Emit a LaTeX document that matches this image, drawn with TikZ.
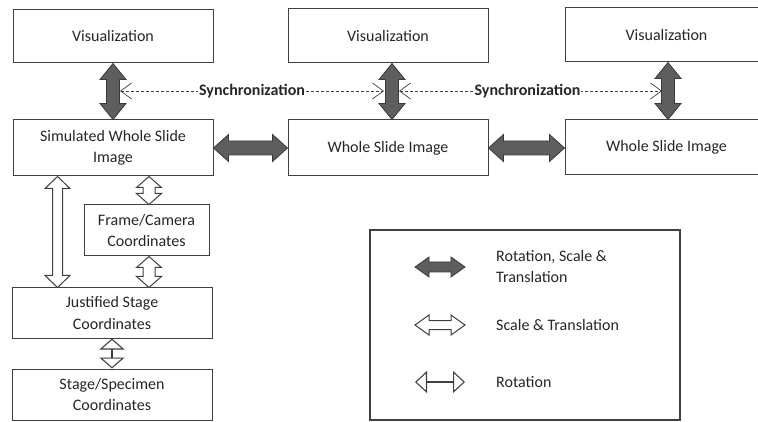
\documentclass[tikz,border=0pt]{standalone}
\usepackage{fontspec}
\setmainfont{Carlito}
\usetikzlibrary{calc,arrows.meta}

\definecolor{ink}{HTML}{262626}
\definecolor{frame}{HTML}{404040}
\definecolor{heavyfill}{HTML}{5E5E5E}
\definecolor{heavyline}{HTML}{3A3A3A}

% Block double arrow, vertical: #1 style, #2 upper end, #3 lower end,
% #4 shaft half-width, #5 head half-width, #6 head length (all in pt)
\newcommand\vdouble[6]{%
  \path[#1] let \p1=(#2), \p2=(#3) in
    (\x1,\y1) -- (\x1+#5pt,\y1-#6pt) -- (\x1+#4pt,\y1-#6pt)
    -- (\x1+#4pt,\y2+#6pt) -- (\x1+#5pt,\y2+#6pt) -- (\x1,\y2)
    -- (\x1-#5pt,\y2+#6pt) -- (\x1-#4pt,\y2+#6pt)
    -- (\x1-#4pt,\y1-#6pt) -- (\x1-#5pt,\y1-#6pt) -- cycle;}
% Block double arrow, horizontal: #2 left end, #3 right end
\newcommand\hdouble[6]{%
  \path[#1] let \p1=(#2), \p2=(#3) in
    (\x1,\y1) -- (\x1+#6pt,\y1+#5pt) -- (\x1+#6pt,\y1+#4pt)
    -- (\x2-#6pt,\y1+#4pt) -- (\x2-#6pt,\y1+#5pt) -- (\x2,\y1)
    -- (\x2-#6pt,\y1-#5pt) -- (\x2-#6pt,\y1-#4pt)
    -- (\x1+#6pt,\y1-#4pt) -- (\x1+#6pt,\y1-#5pt) -- cycle;}

\begin{document}
\begin{tikzpicture}[x=1pt,y=-1pt,
  font=\fontsize{16}{21.5}\selectfont, text=ink,
  box/.style={draw=frame, line width=1pt, fill=white, align=center,
    inner sep=0pt, minimum width=#1},
  box/.default=200pt,
  heavy/.style={fill=heavyfill, draw=heavyline, line width=0.8pt, line join=miter},
  hollow/.style={fill=white, draw=frame, line width=1pt, line join=miter},
  turn/.style={draw=frame, line width=1.1pt,
    {Triangle[open, length=11pt, width=25pt]}-{Triangle[open, length=11pt, width=25pt]}},
  turnsmall/.style={draw=frame, line width=1.1pt,
    {Triangle[open, length=12pt, width=22pt]}-{Triangle[open, length=12pt, width=22pt]}},
  sync/.style={draw=black!75, line width=0.7pt, dash pattern=on 3pt off 2pt,
    {Straight Barb[length=11pt, width=16pt]}-{Straight Barb[length=11pt, width=16pt]}},
  synclabel/.style={fill=white, inner sep=1pt, font=\fontsize{16}{19}\selectfont\bfseries}]

\useasboundingbox (0,0) rectangle (758,422);
\clip (0,0) rectangle (758,422);

% top row
\node[box, minimum height=53pt] (v1) at (113,36.5) {Visualization};
\node[box, minimum height=54pt] (v2) at (388,36) {Visualization};
\node[box=203pt, minimum height=54pt] (v3) at (666.5,35) {Visualization};

% whole slide images
\node[box, minimum height=56pt] (sw) at (113,148) {Simulated Whole Slide\\Image};
\node[box, minimum height=56pt] (w2) at (388,148) {Whole Slide Image};
\node[box=203pt, minimum height=55pt] (w3) at (666.5,147.5) {Whole Slide Image};

% coordinate systems
\node[box=125pt, minimum height=51pt] (fc) at (146.5,230.5) {Frame/Camera\\Coordinates};
\node[box, minimum height=50pt] (js) at (112,313) {Justified Stage\\Coordinates};
\node[box, minimum height=51pt] (ss) at (112,394.5) {Stage/Specimen\\Coordinates};

% rotation, scale and translation links
\vdouble{heavy}{v1.south}{sw.north}{6.5}{13}{16}
\vdouble{heavy}{$(v2.south)+(4,0)$}{$(w2.north)+(4,0)$}{6.5}{13}{16}
\vdouble{heavy}{$(v3.south)+(1.5,0)$}{$(w3.north)+(1.5,0)$}{6.5}{13}{16}
\hdouble{heavy}{sw.east}{w2.west}{7}{13.5}{15}
\hdouble{heavy}{w2.east}{$(w3.west)+(0,0.5)$}{7}{13.5}{15}

% scale and translation links
\vdouble{hollow}{$(sw.south west)+(45,0)$}{$(js.north west)+(46,0)$}{5}{12.5}{12}
\vdouble{hollow}{$(sw.south -| fc.north)+(2.5,0)$}{$(fc.north)+(2.5,0)$}{6}{12.5}{11}
\vdouble{hollow}{$(fc.south)+(2.5,0)$}{$(js.north -| fc.south)+(2.5,0)$}{6}{12.5}{11}

% rotation link
\draw[turn] (js.south) -- (ss.north);

% synchronization between the views
\coordinate (s1a) at (120,91);
\coordinate (s1b) at (384,91);
\coordinate (s2a) at (399,91);
\coordinate (s2b) at (662,91);
\draw[sync] (s1a) -- (s1b) node[midway, synclabel] {Synchronization};
\draw[sync] (s2a) -- (s2b) node[midway, synclabel, xshift=-3pt] {Synchronization};

% legend
\node[draw=frame, line width=1.5pt, minimum width=310pt, minimum height=190pt,
  inner sep=0pt] (lg) at (525,325) {};
\coordinate (l1a) at (415,267);
\coordinate (l1b) at (465,267);
\coordinate (l2a) at (415,325);
\coordinate (l2b) at (465,325);
\coordinate (l3a) at (415,382);
\coordinate (l3b) at (465,382);
\hdouble{heavy}{l1a}{l1b}{5}{10}{14}
\hdouble{hollow}{l2a}{l2b}{4.5}{10}{14}
\draw[turnsmall] (l3a) -- (l3b);
\node[anchor=west, align=left, inner sep=0pt] (t1) at (496,266.5) {Rotation, Scale \&\\Translation};
\node[anchor=west, inner sep=0pt] (t2) at (496,325) {Scale \& Translation};
\node[anchor=west, inner sep=0pt] (t3) at (496,382) {Rotation};
\end{tikzpicture}
\end{document}
